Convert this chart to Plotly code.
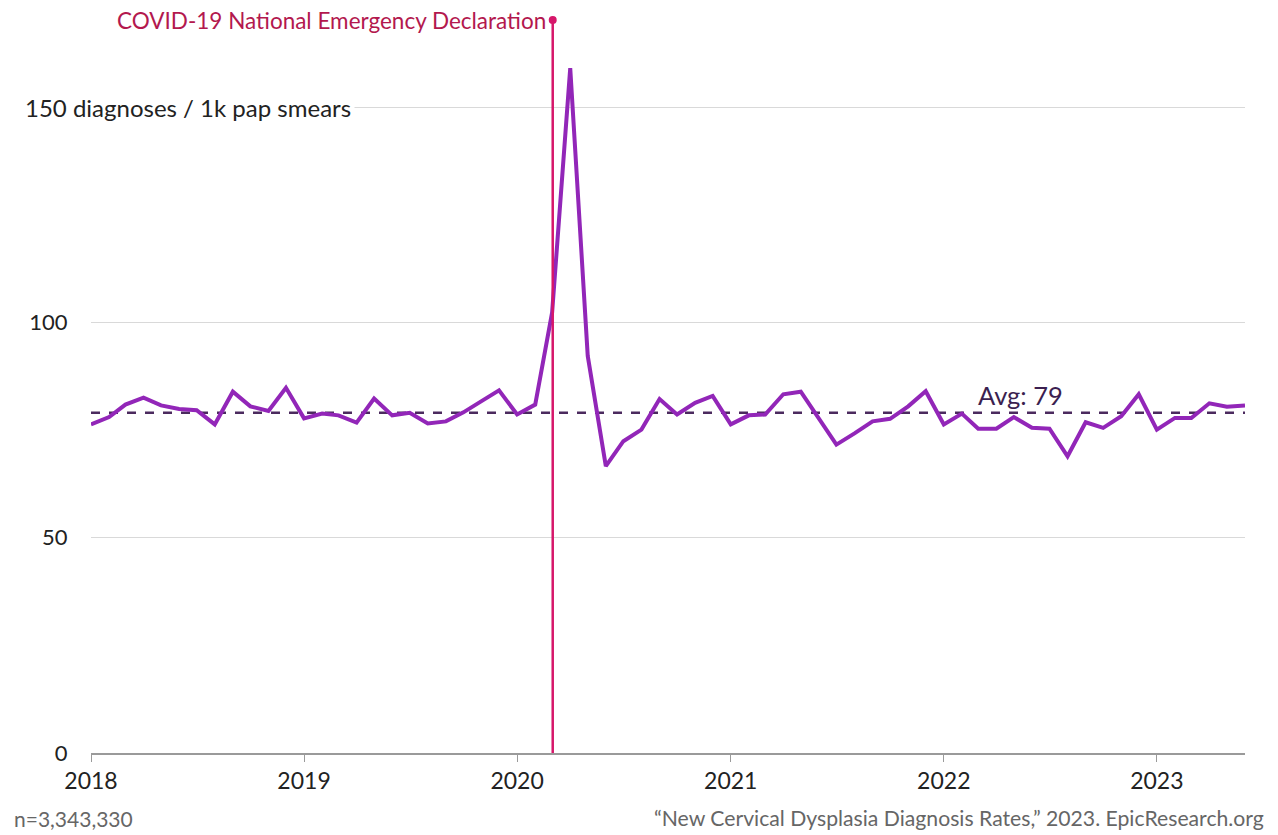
import pandas as pd
import plotly.graph_objects as go

months = pd.date_range("2018-01-01", "2023-06-01", freq="MS").strftime("%Y-%m-%d").tolist()
rates = [
    76.3, 78.0, 80.9, 82.5, 80.7, 79.9, 79.6, 76.3, 83.9, 80.5, 79.4, 84.8,
    77.7, 78.8, 78.4, 76.7, 82.3, 78.4, 79.0, 76.5, 77.0, 79.1, 81.7, 84.2,
    78.6, 80.9, 102.3, 159.0, 92.2, 66.6, 72.4, 75.1, 82.2, 78.6, 81.3, 82.9,
    76.3, 78.4, 78.6, 83.3, 83.9, 77.8, 71.6, 74.2, 77.0, 77.6, 80.5, 84.0,
    76.3, 78.8, 75.3, 75.3, 78.0, 75.5, 75.3, 68.9, 76.8, 75.5, 78.2, 83.3,
    75.1, 77.8, 77.8, 81.2, 80.4, 80.7,
]
avg_value = 79
avg_label = "Avg: 79"
event_date = "2020-03-02"
event_label = "COVID-19 National Emergency Declaration"
y_ticks = [0, 50, 100, 150]
y_ticktext = ["0", "50", "100", ""]
y_top_label = "150 diagnoses / 1k pap smears"
n_label = "n=3,343,330"
source_label = "\u201cNew Cervical Dysplasia Diagnosis Rates,\u201d 2023. EpicResearch.org"

FONT = "Lato"
W, H = 1278, 835
ML, MR, MT, MB = 91, 33, 20, 82
PW = W - ML - MR
PH = H - MT - MB
Y_TOP = 170.2
FOOT_Y = -(818 - (H - MB)) / PH

fig = go.Figure()

# average dashed line
fig.add_trace(go.Scatter(
    x=[months[0], months[-1]], y=[avg_value, avg_value], mode="lines",
    line=dict(color="#4b2a5e", width=2.5, dash="dash"),
    hoverinfo="skip", showlegend=False,
))

# main series
fig.add_trace(go.Scatter(
    x=months, y=rates, mode="lines",
    line=dict(color="#9226b8", width=4),
    showlegend=False,
))

# event vertical line
fig.add_trace(go.Scatter(
    x=[event_date, event_date], y=[0, Y_TOP], mode="lines",
    line=dict(color="#d6176a", width=2.5),
    hoverinfo="skip", showlegend=False, cliponaxis=False,
))
fig.add_trace(go.Scatter(
    x=[event_date], y=[Y_TOP], mode="markers",
    marker=dict(color="#d6176a", size=8),
    hoverinfo="skip", showlegend=False, cliponaxis=False,
))

fig.add_annotation(
    x=event_date, y=Y_TOP, xref="x", yref="y", text=event_label,
    showarrow=False, xanchor="right", yanchor="middle", xshift=-5,
    font=dict(family=FONT, size=22.5, color="#b3184e"),
)

fig.add_annotation(
    x="2022-05-13", y=avg_value, xref="x", yref="y", text=avg_label,
    showarrow=False, xanchor="center", yanchor="bottom", yshift=1,
    font=dict(family=FONT, size=25.5, color="#3b1f50"),
)

fig.add_annotation(
    x=(21 - ML) / PW, y=150, xref="paper", yref="y", text=y_top_label,
    showarrow=False, xanchor="left", yanchor="middle",
    bgcolor="white", borderpad=3,
    font=dict(family=FONT, size=24, color="#222222"),
)

fig.add_annotation(
    x=(12 - ML) / PW, y=FOOT_Y,
    xref="paper", yref="paper", text=n_label,
    showarrow=False, xanchor="left", yanchor="middle",
    font=dict(family=FONT, size=21, color="#666666"),
)

fig.add_annotation(
    x=(1266 - ML) / PW, y=FOOT_Y,
    xref="paper", yref="paper", text=source_label,
    showarrow=False, xanchor="right", yanchor="middle",
    font=dict(family=FONT, size=21.2, color="#666666"),
)

fig.update_layout(
    width=W, height=H,
    margin=dict(l=ML, r=MR, t=MT, b=MB),
    plot_bgcolor="white", paper_bgcolor="white",
    font=dict(family=FONT, size=22, color="#222222"),
    xaxis=dict(
        type="date", range=[months[0], months[-1]],
        dtick="M12", tick0="2018-01-01", tickformat="%Y",
        showgrid=False, zeroline=False,
        showline=True, linecolor="#9a9a9a", linewidth=1.5,
        ticks="outside", ticklen=7, tickcolor="#9a9a9a", tickwidth=1,
        tickfont=dict(family=FONT, size=23, color="#222222"),
    ),
    yaxis=dict(
        range=[0, Y_TOP], tickvals=y_ticks, ticktext=y_ticktext,
        showgrid=True, gridcolor="#d9d9d9", gridwidth=1,
        zeroline=False, showline=False,
        ticks="outside", ticklen=18, tickcolor="rgba(0,0,0,0)",
        tickfont=dict(family=FONT, size=22, color="#222222"),
    ),
)

fig.write_html(
    "out.html",
    config={"displayModeBar": False},
    post_script="document.body.style.margin='0';document.body.style.overflow='hidden';",
)
